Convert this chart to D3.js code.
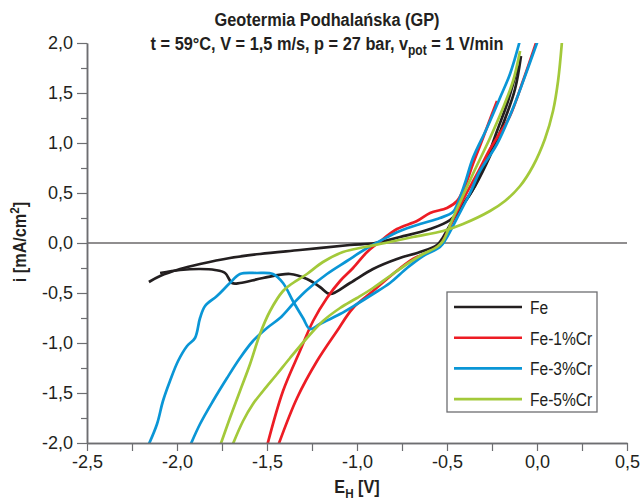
<!DOCTYPE html>
<html>
<head>
<meta charset="utf-8">
<script src="https://cdn.jsdelivr.net/npm/d3@7"></script>
<style>
  body { margin: 0; background: #fff; }
  svg { display: block; }
</style>
</head>
<body>
<div id="chart"></div>
<script>
// tick labels
const xTicks = [-2.5, -2.0, -1.5, -1.0, -0.5, 0.0, 0.5];
const yTicks = [-2.0, -1.5, -1.0, -0.5, 0.0, 0.5, 1.0, 1.5, 2.0];
const xMinor = [-2.25, -1.75, -1.25, -0.75, -0.25, 0.25];
const yMinor = [-1.75, -1.25, -0.75, -0.25, 0.25, 0.75, 1.25, 1.75];

const seriesNames = ['Fe', 'Fe-1%Cr', 'Fe-3%Cr', 'Fe-5%Cr'];
const seriesColors = ['#231f20', '#ed1c24', '#0a96d6', '#a3c93a'];

// [E (V), i (mA/cm2)], two sweeps per alloy
const feA = [[-2.156,-0.39],[-2.094,-0.33],[-1.983,-0.26],[-1.872,-0.21],[-1.706,-0.15],[-1.539,-0.11],[-1.317,-0.07],[-1.039,-0.02],[-0.9,0.0],[-0.761,0.06],[-0.594,0.14],[-0.483,0.23],[-0.417,0.37],[-0.344,0.57],[-0.261,0.87],[-0.178,1.24],[-0.122,1.54],[-0.089,1.87]];
const feB = [[-2.094,-0.30],[-1.983,-0.27],[-1.872,-0.26],[-1.789,-0.27],[-1.733,-0.30],[-1.694,-0.40],[-1.65,-0.40],[-1.522,-0.35],[-1.372,-0.31],[-1.278,-0.36],[-1.206,-0.44],[-1.15,-0.51],[-1.039,-0.40],[-0.911,-0.26],[-0.778,-0.16],[-0.65,-0.09],[-0.556,-0.02],[-0.528,0.04],[-0.483,0.18],[-0.428,0.34],[-0.361,0.52],[-0.289,0.79],[-0.222,1.12],[-0.161,1.42],[-0.106,1.77]];

const cr1A = [[-1.5,-2.03],[-1.411,-1.48],[-1.317,-1.08],[-1.244,-0.78],[-1.167,-0.55],[-1.094,-0.38],[-1.022,-0.25],[-0.944,-0.09],[-0.883,0.0],[-0.778,0.14],[-0.667,0.22],[-0.594,0.30],[-0.5,0.35],[-0.444,0.42],[-0.4,0.57],[-0.356,0.79],[-0.3,1.05],[-0.25,1.29],[-0.222,1.42]];
const cr1B = [[-1.439,-2.03],[-1.333,-1.55],[-1.222,-1.18],[-1.111,-0.88],[-1.022,-0.65],[-0.911,-0.48],[-0.8,-0.31],[-0.689,-0.16],[-0.594,-0.08],[-0.539,-0.02],[-0.5,0.10],[-0.456,0.27],[-0.4,0.47],[-0.333,0.69],[-0.261,0.94],[-0.206,1.10],[-0.15,1.27],[-0.078,1.62],[0.0,2.03]];

const cr3A = [[-2.161,-2.03],[-2.111,-1.81],[-2.078,-1.58],[-2.039,-1.38],[-1.994,-1.18],[-1.944,-1.03],[-1.9,-0.95],[-1.872,-0.75],[-1.844,-0.63],[-1.778,-0.53],[-1.706,-0.40],[-1.65,-0.31],[-1.556,-0.30],[-1.467,-0.31],[-1.411,-0.40],[-1.356,-0.58],[-1.3,-0.75],[-1.261,-0.86],[-1.206,-0.81],[-1.094,-0.71],[-1.0,-0.61],[-0.911,-0.51],[-0.817,-0.40],[-0.722,-0.25],[-0.633,-0.13],[-0.539,-0.04],[-0.506,0.04],[-0.444,0.25],[-0.372,0.50],[-0.317,0.72],[-0.222,0.99],[-0.133,1.35],[-0.056,1.72],[0.006,2.03]];
const cr3B = [[-1.928,-2.03],[-1.872,-1.81],[-1.8,-1.58],[-1.722,-1.35],[-1.65,-1.15],[-1.578,-0.98],[-1.5,-0.85],[-1.428,-0.75],[-1.356,-0.61],[-1.278,-0.47],[-1.167,-0.31],[-1.056,-0.18],[-0.944,-0.05],[-0.872,0.02],[-0.761,0.12],[-0.65,0.19],[-0.539,0.25],[-0.467,0.31],[-0.44,0.40],[-0.4,0.60],[-0.356,0.85],[-0.278,1.15],[-0.206,1.45],[-0.15,1.69],[-0.094,2.03]];

const cr5A = [[-1.761,-2.03],[-1.706,-1.75],[-1.65,-1.48],[-1.594,-1.21],[-1.539,-0.91],[-1.483,-0.68],[-1.411,-0.48],[-1.372,-0.42],[-1.278,-0.31],[-1.189,-0.19],[-1.078,-0.09],[-0.956,-0.04],[-0.844,0.0],[-0.689,0.06],[-0.522,0.12],[-0.411,0.19],[-0.261,0.32],[-0.178,0.42],[-0.094,0.57],[-0.022,0.77],[0.044,1.04],[0.089,1.32],[0.117,1.62],[0.139,2.02]];
const cr5B = [[-1.694,-2.03],[-1.633,-1.78],[-1.578,-1.61],[-1.522,-1.48],[-1.444,-1.31],[-1.372,-1.15],[-1.278,-0.95],[-1.189,-0.78],[-1.094,-0.65],[-1.0,-0.55],[-0.911,-0.45],[-0.817,-0.33],[-0.722,-0.21],[-0.633,-0.11],[-0.556,-0.04],[-0.522,0.02],[-0.467,0.25],[-0.356,0.69],[-0.261,1.05],[-0.189,1.35],[-0.133,1.62],[-0.094,1.92]];

const curves = [
  { s: 0, pts: feA }, { s: 0, pts: feB },
  { s: 1, pts: cr1A }, { s: 1, pts: cr1B },
  { s: 2, pts: cr3A }, { s: 2, pts: cr3B },
  { s: 3, pts: cr5A }, { s: 3, pts: cr5B }
];

const W = 641, H = 500;
const FONT = "'Liberation Sans', Arial, sans-serif";
const TXT = '#231f20';
const AXC = '#6d6e71';

d3.formatDefaultLocale({ decimal: ',', thousands: '.', grouping: [3], currency: ['', ''], minus: '-' });
const fmt = d3.format('.1f');

const x = d3.scaleLinear().domain([-2.5, 0.5]).range([87, 627]);
const y = d3.scaleLinear().domain([-2, 2]).range([443, 43]);

const svg = d3.select('#chart').append('svg')
  .attr('width', W).attr('height', H)
  .style('font-family', FONT);

svg.append('clipPath').attr('id', 'plot')
  .append('rect').attr('x', 87).attr('y', 43).attr('width', 540).attr('height', 400);

// zero line
svg.append('line')
  .attr('x1', x(-2.5)).attr('x2', x(0.5))
  .attr('y1', y(0)).attr('y2', y(0))
  .attr('stroke', '#231f20').attr('stroke-width', 1.2);

// curves
const line = d3.line().x(d => x(d[0])).y(d => y(d[1])).curve(d3.curveCatmullRom.alpha(0.5));
svg.append('g').attr('clip-path', 'url(#plot)')
  .selectAll('path').data(curves).enter().append('path')
  .attr('d', d => line(d.pts))
  .attr('fill', 'none')
  .attr('stroke', d => seriesColors[d.s])
  .attr('stroke-width', 2.7)
  .attr('stroke-linejoin', 'round');

// axes
const yAxis = svg.append('g').attr('transform', `translate(${x(-2.5)},0)`)
  .call(d3.axisLeft(y).tickValues(yTicks).tickSize(10).tickSizeOuter(0).tickPadding(4).tickFormat(fmt));
const yAxisMinor = svg.append('g').attr('transform', `translate(${x(-2.5)},0)`)
  .call(d3.axisLeft(y).tickValues(yMinor).tickSize(6).tickSizeOuter(0).tickFormat(''));
const xAxis = svg.append('g').attr('transform', `translate(0,${y(-2)})`)
  .call(d3.axisBottom(x).tickValues(xTicks).tickSize(8).tickSizeOuter(0).tickPadding(4).tickFormat(fmt));
const xAxisMinor = svg.append('g').attr('transform', `translate(0,${y(-2)})`)
  .call(d3.axisBottom(x).tickValues(xMinor).tickSize(8).tickSizeOuter(0).tickFormat(''));

[yAxis, yAxisMinor, xAxis, xAxisMinor].forEach(a => {
  a.select('.domain').attr('stroke', AXC).attr('stroke-width', 1.5);
  a.selectAll('.tick line').attr('stroke', AXC).attr('stroke-width', 1.2);
  a.selectAll('.tick text').attr('fill', TXT).style('font-family', FONT).style('font-size', '18px');
});

// titles (narrowed to look like the condensed face of the original)
const t1 = svg.append('g').attr('transform', 'translate(327,26) scale(0.86,1)');
t1.append('text').attr('text-anchor', 'middle')
  .attr('fill', TXT).style('font-size', '19px').style('font-weight', 'bold')
  .text('Geotermia Podhalańska (GP)');
const t2 = svg.append('g').attr('transform', 'translate(327,50) scale(0.86,1)');
const sub = t2.append('text').attr('text-anchor', 'middle')
  .attr('fill', TXT).style('font-size', '19px').style('font-weight', 'bold');
sub.append('tspan').text('t = 59°C, V = 1,5 m/s, p = 27 bar, v');
sub.append('tspan').attr('dy', 5).style('font-size', '14px').text('pot');
sub.append('tspan').attr('dy', -5).text(' = 1 V/min');

const xg = svg.append('g').attr('transform', 'translate(357,493) scale(0.9,1)');
const xt = xg.append('text').attr('text-anchor', 'middle')
  .attr('fill', TXT).style('font-size', '18px').style('font-weight', 'bold');
xt.append('tspan').text('E');
xt.append('tspan').attr('dy', 5).style('font-size', '13px').text('H');
xt.append('tspan').attr('dy', -5).text(' [V]');

const yg = svg.append('g').attr('transform', 'translate(26,242) rotate(-90) scale(0.9,1)');
const yt = yg.append('text').attr('text-anchor', 'middle')
  .attr('fill', TXT).style('font-size', '18px').style('font-weight', 'bold');
yt.append('tspan').text('i [mA/cm');
yt.append('tspan').attr('dy', -7).style('font-size', '13px').text('2');
yt.append('tspan').attr('dy', 7).text(']');

// legend
const lg = svg.append('g').attr('transform', 'translate(447,292)');
lg.append('rect').attr('width', 150).attr('height', 120)
  .attr('fill', '#fff').attr('stroke', AXC).attr('stroke-width', 1.3);
const item = lg.selectAll('g.item').data(seriesNames).enter().append('g')
  .attr('class', 'item')
  .attr('transform', (d, i) => `translate(0,${15 + i * 30.7})`);
item.append('line').attr('x1', 7).attr('x2', 75)
  .attr('stroke', (d, i) => seriesColors[i]).attr('stroke-width', 2.6);
item.append('text').attr('transform', 'translate(83,7) scale(0.82,1)')
  .attr('fill', TXT).style('font-size', '19px').text(d => d);
</script>
</body>
</html>
